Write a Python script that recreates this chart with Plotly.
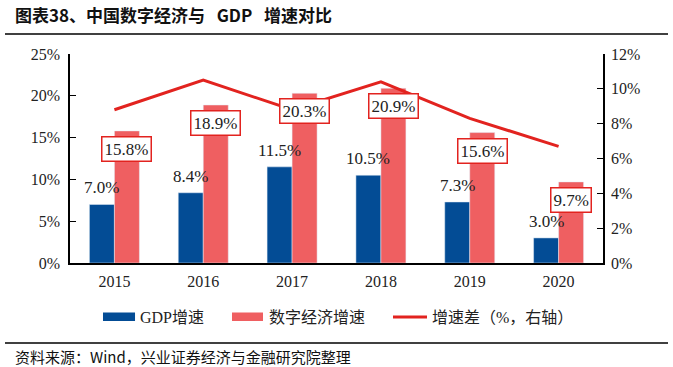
import plotly.graph_objects as go

years = ["2015", "2016", "2017", "2018", "2019", "2020"]
gdp = [7.0, 8.4, 11.5, 10.5, 7.3, 3.0]
digital = [15.8, 18.9, 20.3, 20.9, 15.6, 9.7]
diff = [8.8, 10.5, 8.8, 10.4, 8.3, 6.7]
names = ["GDP增速", "数字经济增速", "增速差（%，右轴）"]

BLUE = "#034C95"
PINK = "#EF5F61"
RED = "#E2231F"
SERIF = "Liberation Serif, Times New Roman, serif"
CJK = "Noto Sans CJK SC, sans-serif"
LEGFONT = "Liberation Serif, Noto Sans CJK SC, serif"

fig = go.Figure()
fig.add_trace(go.Bar(x=years, y=gdp, name=names[0], marker_color=BLUE, yaxis="y"))
fig.add_trace(go.Bar(x=years, y=digital, name=names[1], marker_color=PINK, yaxis="y"))
fig.add_trace(go.Scatter(x=years, y=diff, name=names[2], mode="lines",
                         line=dict(color=RED, width=3), yaxis="y2"))

ann = []
for i, v in enumerate(gdp):
    ann.append(dict(x=i, y=v, xref="x", yref="y", text=f"{v:.1f}%", showarrow=False,
                    xshift=-12.5, yshift=5, yanchor="bottom",
                    font=dict(family=SERIF, size=17, color="#222")))
for i, v in enumerate(digital):
    ann.append(dict(x=i, y=v, xref="x", yref="y", text=f"{v:.1f}%", showarrow=False,
                    xshift=12.5, yshift=-5, yanchor="top",
                    bgcolor="white", bordercolor=RED, borderwidth=1.5, borderpad=2,
                    font=dict(family=SERIF, size=17, color="#222")))
ann.append(dict(x=-0.107, y=1.19, xref="paper", yref="paper", xanchor="left", yanchor="middle",
                text="<b>图表38、中国数字经济与   GDP   增速对比</b>", showarrow=False,
                font=dict(family=CJK, size=17, color="#111")))
ann.append(dict(x=-0.107, y=-0.445, xref="paper", yref="paper", xanchor="left", yanchor="middle",
                text="资料来源：Wind，兴业证券经济与金融研究院整理", showarrow=False,
                font=dict(family=CJK, size=15, color="#111")))

# manual legend (wide swatches like the reference)
leg_y = -0.2584
leg_text_x = [0.1276, 0.3696, 0.6754]
for tx, nm in zip(leg_text_x, names):
    ann.append(dict(x=tx, y=leg_y, xref="paper", yref="paper", xanchor="left", yanchor="middle",
                    text=nm, showarrow=False, font=dict(family=LEGFONT, size=16, color="#222")))

shapes = [
    dict(type="line", xref="paper", yref="paper", x0=-0.122, x1=1.122, y0=1.0957, y1=1.0957,
         line=dict(color="black", width=1.3)),
    dict(type="line", xref="paper", yref="paper", x0=-0.122, x1=1.122, y0=-0.3828, y1=-0.3828,
         line=dict(color="black", width=1.3)),
    dict(type="rect", xref="paper", yref="paper", x0=0.0619, x1=0.1220, y0=-0.2775, y1=-0.2368,
         fillcolor=BLUE, line=dict(width=0)),
    dict(type="rect", xref="paper", yref="paper", x0=0.3039, x1=0.3621, y0=-0.2775, y1=-0.2368,
         fillcolor=PINK, line=dict(width=0)),
    dict(type="line", xref="paper", yref="paper", x0=0.6060, x1=0.6698, y0=leg_y, y1=leg_y,
         line=dict(color=RED, width=3)),
]

fig.update_layout(
    width=673, height=367,
    margin=dict(l=70, r=70, t=54, b=104),
    paper_bgcolor="white", plot_bgcolor="white",
    barmode="group", bargap=0.437, bargroupgap=0,
    showlegend=False,
    xaxis=dict(type="category", range=[-0.5, 5.5], autorange=False,
               showline=True, linecolor="black", linewidth=1.5, ticks="", ticklabelstandoff=3,
               tickfont=dict(family=SERIF, size=16, color="#222")),
    yaxis=dict(range=[0, 25], autorange=False, dtick=5, ticksuffix="%", showgrid=False, zeroline=False,
               showline=True, linecolor="black", linewidth=1.5, ticks="inside", ticklen=6,
               ticklabelstandoff=5,
               tickcolor="black", tickfont=dict(family=SERIF, size=16, color="#222")),
    yaxis2=dict(range=[0, 12], autorange=False, dtick=2, ticksuffix="%", overlaying="y", side="right",
                showgrid=False, zeroline=False, showline=True, linecolor="black", linewidth=1.5,
                ticks="inside", ticklen=6, tickcolor="black", ticklabelstandoff=3,
                tickfont=dict(family=SERIF, size=16, color="#222")),
    annotations=ann, shapes=shapes,
)

fig.write_html("out.html", config={"displayModeBar": False},
               post_script="document.body.style.margin='0px';document.body.style.overflow='hidden';")
